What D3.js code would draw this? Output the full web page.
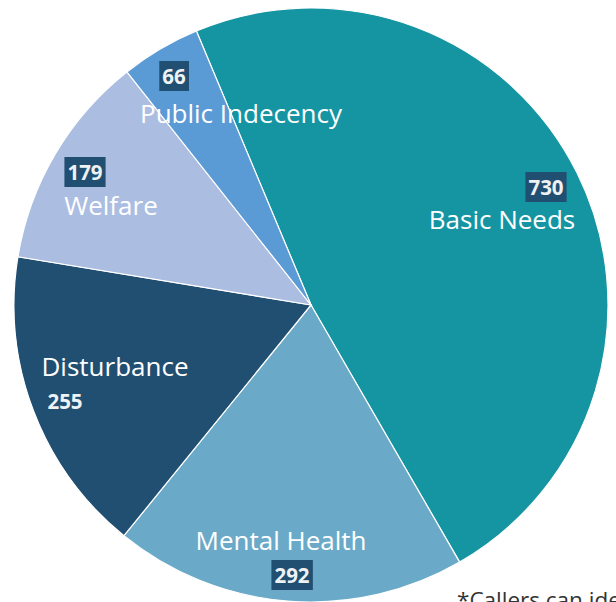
<!DOCTYPE html>
<html><head><meta charset="utf-8">
<script src="https://cdn.jsdelivr.net/npm/d3@7"></script>
<style>html,body{margin:0;padding:0;background:#fff;overflow:hidden}</style>
</head><body>
<svg id="c" width="616" height="602"></svg>
<script>
const categories = ["Basic Needs","Mental Health","Disturbance","Welfare","Public Indecency"];
const values = [730, 292, 255, 179, 66];
const colors = ["#1595a2","#6aaac8","#214f72","#abbde1","#5b9bd5"];
// label layout: name anchor offset from centre, value box offset from centre
const labelLayout = [
  {name:[191,-86], value:[235,-118]},
  {name:[-30,235], value:[-19,270]},
  {name:[-196,61], value:[-246,96]},
  {name:[-200,-100], value:[-226,-133]},
  {name:[-70,-192], value:[-137,-229]}
];
const footnote = "*Callers can identify more than one need";

const W=616,H=602, cx=311, cy=305, r=297;
const svg=d3.select("#c");
const g=svg.append("g").attr("transform",`translate(${cx},${cy})`);
const startA = -22.7*Math.PI/180;
const pie=d3.pie().sort(null).startAngle(startA).endAngle(startA+2*Math.PI);
const arcs=pie(values);
const arc=d3.arc().innerRadius(0).outerRadius(r);
const color=d3.scaleOrdinal().domain(categories).range(colors);
g.selectAll("path").data(arcs).join("path")
  .attr("d",arc).attr("fill",(d,i)=>color(categories[i]))
  .attr("stroke","#fff").attr("stroke-width",1.2);

const font="'Open Sans', Lato, sans-serif";
arcs.forEach((d,i)=>{
  const L=labelLayout[i];
  g.append("text").attr("x",L.name[0]).attr("y",L.name[1])
   .attr("text-anchor","middle").attr("dominant-baseline","central")
   .attr("font-family",font).attr("font-size",26).attr("fill","#fff")
   .text(categories[i]);
  const vg=g.append("g").attr("transform",`translate(${L.value[0]},${L.value[1]})`);
  const rect=vg.append("rect").attr("fill","#214f72");
  const t=vg.append("text").attr("text-anchor","middle").attr("dominant-baseline","central")
   .attr("font-family",font).attr("font-weight","bold").attr("font-size",20.5).attr("fill","#eef2f5")
   .text(d3.format("d")(values[i]));
  const bb=t.node().getBBox();
  rect.attr("x",bb.x-3).attr("y",-15).attr("width",bb.width+6).attr("height",30);
});
svg.append("text").attr("x",457).attr("y",608).attr("font-family",font)
  .attr("font-size",22.5).attr("fill","#333").text(footnote);
</script>
</body></html>
